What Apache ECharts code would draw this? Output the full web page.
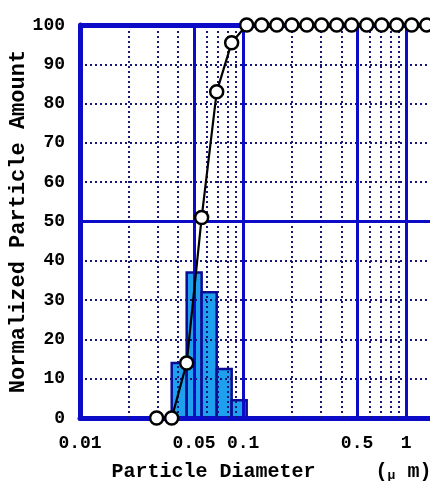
<!DOCTYPE html>
<html>
<head>
<meta charset="utf-8">
<script src="https://cdn.jsdelivr.net/npm/echarts@6.0.0/dist/echarts.min.js"></script>
<style>html,body{margin:0;padding:0;background:#fff}#chart{width:430px;height:481px}</style>
</head>
<body>
<div id="chart"></div>
<script>
// histogram bins (log-spaced edges) and their amounts
const binEdges = [0.0365, 0.0451, 0.0557, 0.0689, 0.0851, 0.1052];
const binAmounts = [14, 37, 32, 12.5, 4.5];
// cumulative curve
const cumX = [0.0295, 0.0365, 0.0451, 0.0557, 0.0689, 0.0851, 0.1052, 0.130, 0.161, 0.199,
              0.246, 0.303, 0.375, 0.463, 0.573, 0.708, 0.875, 1.081, 1.337];
const cumY = [0, 0, 14, 51, 83, 95.5, 100, 100, 100, 100, 100, 100, 100, 100, 100, 100, 100, 100, 100];
// axes
const xTicks = [0.01, 0.05, 0.1, 0.5, 1];
const xTickLabels = ["0.01", "0.05", "0.1", "0.5", "1"];
const xMinor = [0.02, 0.03, 0.04, 0.06, 0.07, 0.08, 0.09, 0.2, 0.3, 0.4, 0.6, 0.7, 0.8, 0.9];
const xMajor = [0.05, 0.1, 0.5, 1];
const yMajor = [50, 100];

const BLUE = "#0c0cc8", NAVY = "#16167a", FONT = '"Liberation Mono", "DejaVu Sans Mono", monospace';

const bars = binAmounts.map((v, i) => [binEdges[i], binEdges[i + 1], v]);
const curve = cumX.map((x, i) => [x, cumY[i]]);

const gridLines = [
  ...xMinor.map(v => ({ xAxis: v, lineStyle: { color: NAVY, width: 2, type: [2, 3] } })),
  ...xMajor.map(v => ({ xAxis: v, lineStyle: { color: BLUE, width: 3, type: "solid" } })),
  ...yMajor.map(v => ({ yAxis: v, lineStyle: { color: BLUE, width: v === 100 ? 5 : 3, type: "solid" } }))
];

const chart = echarts.init(document.getElementById("chart"), null, { renderer: "canvas" });
chart.setOption({
  animation: false,
  backgroundColor: "#fff",
  grid: { left: 80, right: 0, top: 25, bottom: 63, containLabel: false, outerBoundsMode: "none" },
  xAxis: {
    type: "log", logBase: 10, min: 0.01, max: 1.4, z: 4,
    axisLine: { lineStyle: { color: BLUE, width: 5 } },
    axisTick: { show: false }, axisLabel: { show: false }, splitLine: { show: false },
    name: "{a|Particle Diameter}{a|     (}{u|μ}{a| m)}",
    nameLocation: "middle", nameGap: 43, nameMoveOverlap: false,
    nameTextStyle: { padding: [0, 0, 0, 33], rich: {
      a: { fontFamily: FONT, fontWeight: "bold", fontSize: 20, color: "#000" },
      u: { fontFamily: FONT, fontWeight: "bold", fontSize: 13, color: "#000", padding: [8, 0, 0, 0] } } }
  },
  yAxis: {
    type: "value", min: 0, max: 100, interval: 10, z: 4,
    axisLine: { show: true, lineStyle: { color: BLUE, width: 5 } },
    axisTick: { show: false },
    axisLabel: { margin: 15, fontFamily: FONT, fontWeight: "bold", fontSize: 18, color: "#000" },
    splitLine: { lineStyle: { color: NAVY, width: 2, type: [2, 3] } },
    name: "Normalized Particle Amount", nameLocation: "middle", nameGap: 51, nameMoveOverlap: false,
    nameTextStyle: { fontFamily: FONT, fontWeight: "bold", fontSize: 22, color: "#000" }
  },
  series: [
    { name: "grid", type: "line", data: [], z: 1, silent: true,
      markLine: { symbol: "none", silent: true, label: { show: false }, data: gridLines } },
    { name: "amount", type: "custom", z: 2, data: bars, encode: { x: [0, 1], y: 2 },
      renderItem: (params, api) => {
        const p0 = api.coord([api.value(0), api.value(2)]);
        const p1 = api.coord([api.value(1), 0]);
        return { type: "rect", shape: { x: p0[0], y: p0[1], width: p1[0] - p0[0], height: p1[1] - p0[1] },
          style: { fill: "#1ea0ee", stroke: "#0a0a96", lineWidth: 2.5 } };
      } },
    { name: "cumulative", type: "line", z: 6, data: curve, clip: false,
      symbol: "circle", symbolSize: 13, showAllSymbol: true,
      lineStyle: { color: "#000", width: 2.2 },
      itemStyle: { color: "#fff", borderColor: "#000", borderWidth: 2.5 } },
    { name: "xlabels", type: "custom", z: 5, data: xTicks.map(v => [v, 0]), encode: { x: 0, y: 1 },
      renderItem: (params, api) => {
        const p = api.coord([api.value(0), 0]);
        return { type: "text", x: p[0], y: p[1] + 25,
          style: { text: xTickLabels[params.dataIndex], align: "center", verticalAlign: "middle",
            font: 'bold 18px ' + FONT, fill: "#000" } };
      } }
  ]
});
</script>
</body>
</html>
